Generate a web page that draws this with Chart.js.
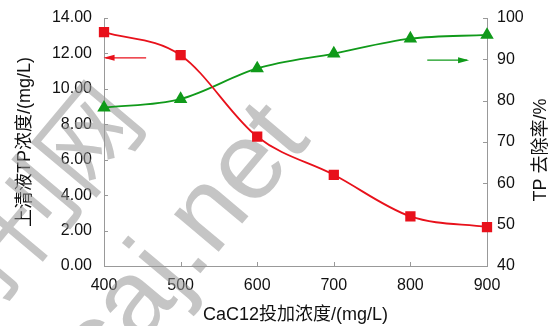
<!DOCTYPE html>
<html>
<head>
<meta charset="utf-8">
<script src="https://cdn.jsdelivr.net/npm/chart.js@4/dist/chart.umd.min.js"></script>
<style>
  html, body { margin: 0; padding: 0; background: #fff; }
  #wrap { width: 553px; height: 326px; }
</style>
</head>
<body>
<div id="wrap"><canvas id="c"></canvas></div>
<script>
const doses = [400, 500, 600, 700, 800, 900];
const tpConc = [13.2, 11.9, 7.3, 5.15, 2.8, 2.2];
const tpRemoval = [78.3, 80.4, 87.8, 91.4, 95.0, 95.9];
const xTicks = [400, 500, 600, 700, 800, 900];
const leftTicks = [0, 2, 4, 6, 8, 10, 12, 14];
const rightTicks = [40, 50, 60, 70, 80, 90, 100];

const FONT = '"Liberation Sans", "Noto Sans CJK SC", Arial, sans-serif';

// arrows, inward ticks, right title and watermark
const extras = {
    id: 'extras',
    beforeDatasetsDraw(chart) {
        const ctx = chart.ctx;
        const ang = -50 * Math.PI / 180;
        ctx.save();
        ctx.fillStyle = 'rgba(150,150,150,0.55)';
        ctx.font = '110px "Liberation Sans", Arial, sans-serif';
        ctx.translate(194, 281);
        ctx.rotate(ang);
        ctx.textAlign = 'right';
        ctx.fillText('caj', 0, 0);
        ctx.textAlign = 'left';
        ctx.fillText('.net', 0, 0);
        ctx.restore();
        ctx.save();
        ctx.fillStyle = 'rgba(150,150,150,0.55)';
        ctx.font = '100px "Noto Sans CJK SC", sans-serif';
        ctx.translate(149, 123);
        ctx.rotate(ang);
        ctx.textAlign = 'right';
        ctx.fillText('期刊网', 0, 0);
        ctx.restore();

        const x = chart.scales.x, yl = chart.scales.y, yr = chart.scales.y1;
        const a = chart.chartArea;
        ctx.save();
        ctx.strokeStyle = '#999';
        ctx.lineWidth = 1;
        ctx.beginPath();
        xTicks.forEach(v => {
            const px = Math.round(x.getPixelForValue(v)) + 0.5;
            ctx.moveTo(px, a.bottom); ctx.lineTo(px, a.bottom - 4);
        });
        leftTicks.forEach(v => {
            const py = Math.round(yl.getPixelForValue(v)) + 0.5;
            ctx.moveTo(a.left, py); ctx.lineTo(a.left + 4, py);
        });
        rightTicks.forEach(v => {
            const py = Math.round(yr.getPixelForValue(v)) + 0.5;
            ctx.moveTo(a.right, py); ctx.lineTo(a.right - 4, py);
        });
        ctx.stroke();
        ctx.restore();

        ctx.save();
        ctx.fillStyle = '#111';
        ctx.font = '18px ' + FONT;
        ctx.translate(541, 150);
        ctx.rotate(-Math.PI / 2);
        ctx.textAlign = 'center';
        ctx.textBaseline = 'middle';
        ctx.fillText('TP 去除率/%', 0, 0);
        ctx.restore();
    },
    afterDatasetsDraw(chart) {
        const ctx = chart.ctx;
        const x = chart.scales.x, yl = chart.scales.y, yr = chart.scales.y1;
        const arrow = (x0, x1, y, col) => {
            ctx.save();
            ctx.strokeStyle = col;
            ctx.fillStyle = col;
            ctx.lineWidth = 1.3;
            ctx.beginPath();
            ctx.moveTo(x0, y);
            ctx.lineTo(x1, y);
            ctx.stroke();
            const d = Math.sign(x1 - x0);
            ctx.beginPath();
            ctx.moveTo(x1 + d * 2, y);
            ctx.lineTo(x1 - d * 9, y - 3);
            ctx.lineTo(x1 - d * 9, y + 3);
            ctx.closePath();
            ctx.fill();
            ctx.restore();
        };
        arrow(x.getPixelForValue(455), x.getPixelForValue(402), yl.getPixelForValue(11.75), '#e8111b');
        arrow(x.getPixelForValue(822), x.getPixelForValue(874), yr.getPixelForValue(89.8), '#109a1a');
    }
};

const noPad = s => { s.paddingTop = 0; s.paddingBottom = 0; s.paddingLeft = 0; s.paddingRight = 0; };

new Chart(document.getElementById('c'), {
    type: 'line',
    data: {
        datasets: [{
            label: 'TP',
            data: doses.map((d, i) => ({ x: d, y: tpConc[i] })),
            yAxisID: 'y',
            borderColor: '#e8111b',
            backgroundColor: '#e8111b',
            borderWidth: 1.8,
            pointStyle: 'rect',
            pointRadius: 6,
            cubicInterpolationMode: 'monotone',
            fill: false
        }, {
            label: 'removal',
            data: doses.map((d, i) => ({ x: d, y: tpRemoval[i] })),
            yAxisID: 'y1',
            borderColor: '#109a1a',
            backgroundColor: '#109a1a',
            borderWidth: 1.8,
            pointStyle: 'triangle',
            pointRadius: 6,
            cubicInterpolationMode: 'monotone',
            fill: false
        }]
    },
    options: {
        responsive: true,
        maintainAspectRatio: false,
        animation: false,
        clip: false,
        layout: { padding: { top: 18, left: 12, right: 0, bottom: 0 } },
        plugins: { legend: { display: false }, tooltip: { enabled: false } },
        scales: {
            x: {
                type: 'linear',
                min: 400, max: 900,
                afterBuildTicks: s => { s.ticks = xTicks.map(v => ({ value: v })); },
                afterFit: s => { s.height = 60; noPad(s); },
                grid: { display: false, drawTicks: false },
                border: { color: '#999', width: 1 },
                ticks: { color: '#111', font: { family: FONT, size: 16 }, padding: 10, maxRotation: 0 },
                title: { display: true, text: 'CaC12投加浓度/(mg/L)', color: '#111', font: { family: FONT, size: 18 }, padding: { top: 0, bottom: 0 } }
            },
            y: {
                position: 'left',
                min: 0, max: 14,
                afterBuildTicks: s => { s.ticks = leftTicks.map(v => ({ value: v })); },
                afterFit: s => { s.width = 92; noPad(s); },
                grid: { display: false, drawTicks: false },
                border: { color: '#999', width: 1 },
                ticks: { color: '#111', font: { family: FONT, size: 16 }, padding: 12, callback: v => v.toFixed(2) },
                title: { display: true, text: '上清液TP浓度/(mg/L)', color: '#111', font: { family: FONT, size: 18 }, padding: { top: 2, bottom: 0 } }
            },
            y1: {
                position: 'right',
                min: 40, max: 100,
                afterBuildTicks: s => { s.ticks = rightTicks.map(v => ({ value: v })); },
                afterFit: s => { s.width = 66; noPad(s); },
                grid: { display: false, drawTicks: false },
                border: { color: '#999', width: 1 },
                ticks: { color: '#111', font: { family: FONT, size: 16 }, padding: 10 },
                title: { display: false }
            }
        }
    },
    plugins: [extras]
});
</script>
</body>
</html>
